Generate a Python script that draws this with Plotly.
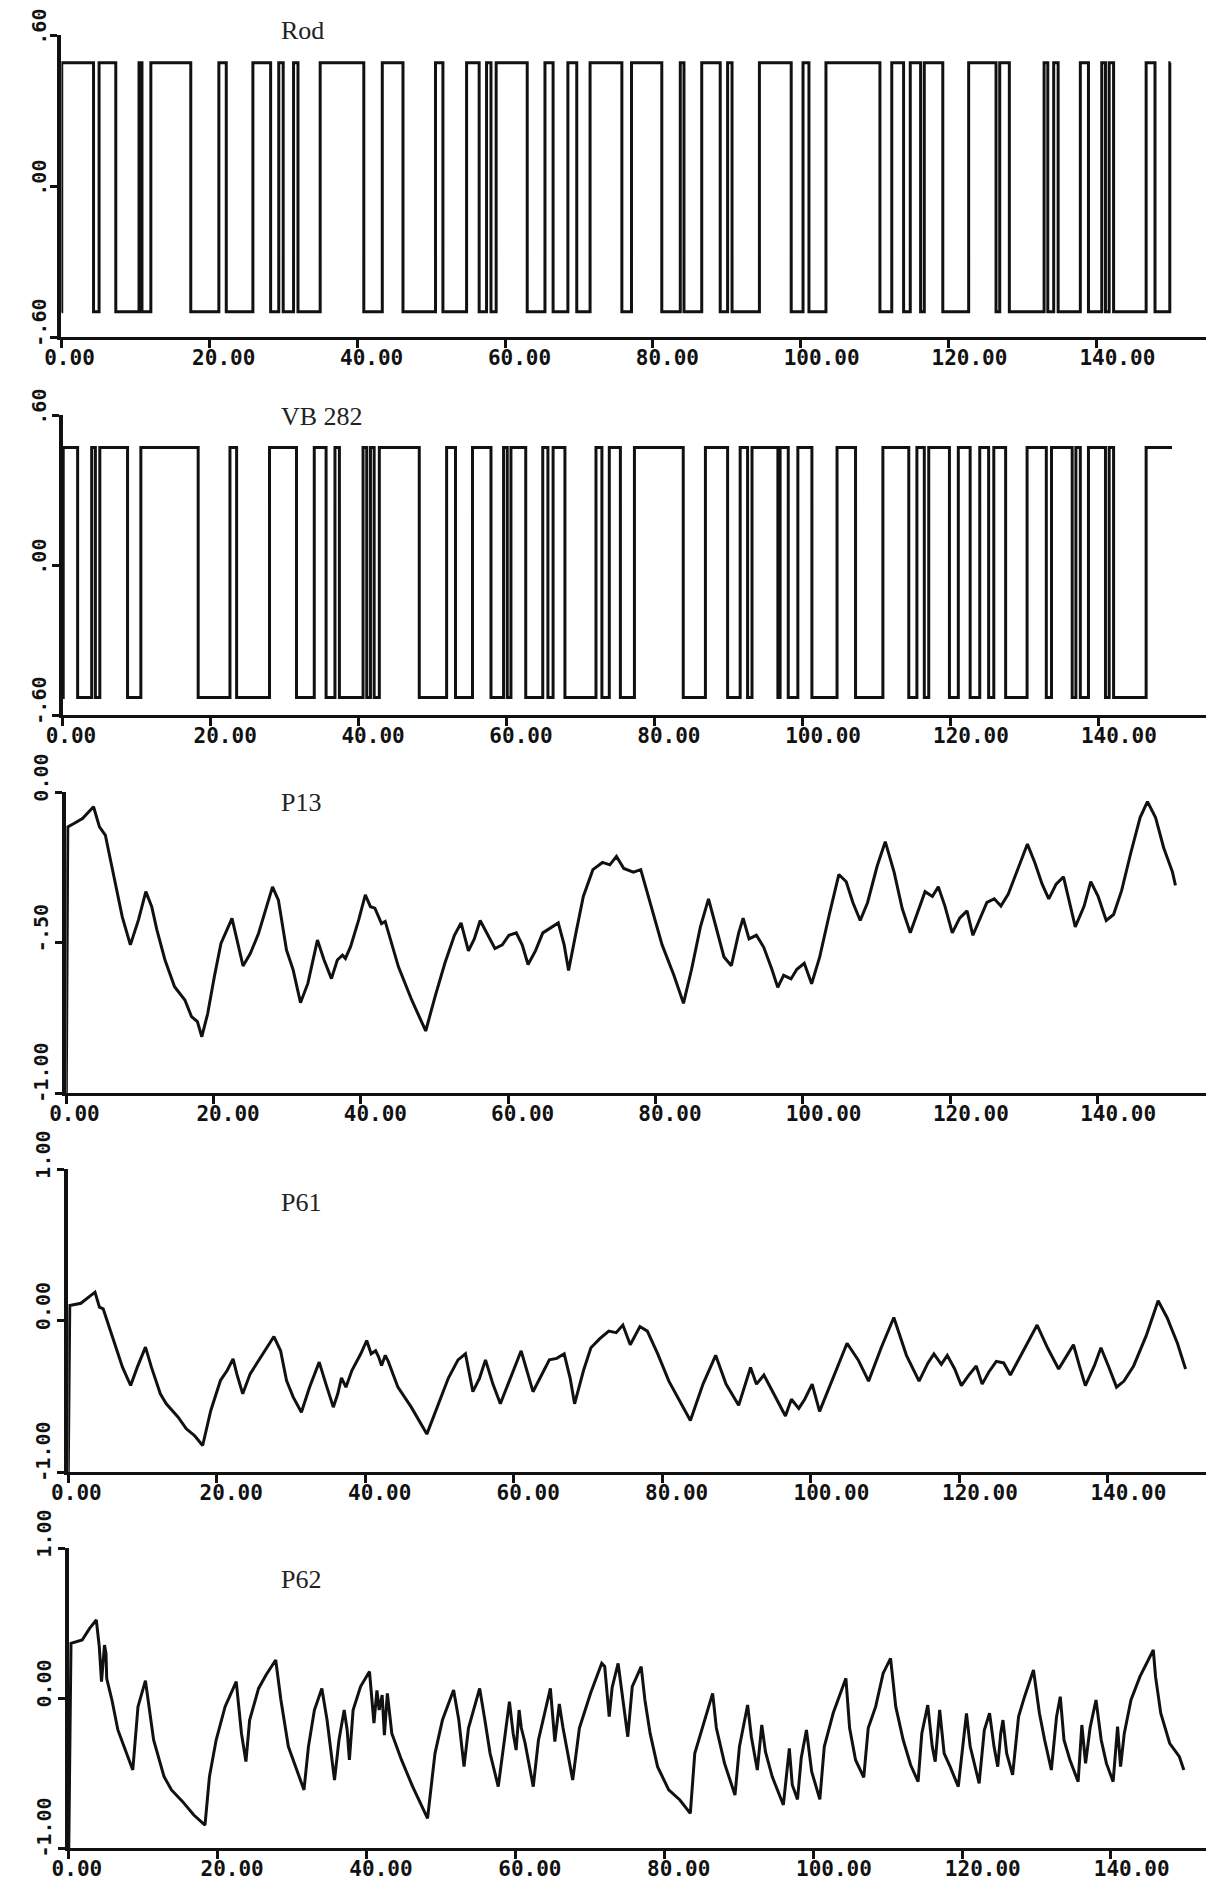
import plotly.graph_objects as go

W, H = 1208, 1899

# ---------------- data ----------------
x_tick_vals = [0, 20, 40, 60, 80, 100, 120, 140]
x_tick_text = ["0.00", "20.00", "40.00", "60.00", "80.00", "100.00", "120.00", "140.00"]

titles = ["Rod", "VB 282", "P13", "P61", "P62"]

# Rod square wave: switch times and state after switch (1 = high, 0 = low)
ROD_HIGH, ROD_LOW = 0.49, -0.50
rod_t = [0, 0.05, 4.35, 5.1, 7.36, 10.5, 10.9, 12.1, 17.5, 21.3, 22.3, 25.9, 28.3, 29.4, 30.0,
         31.4, 32.0, 35.0, 40.9, 43.4, 46.2, 50.6, 51.6, 54.8, 56.5, 57.5, 58.1, 58.8,
         63.0, 65.4, 66.5, 68.5, 69.7, 71.5, 75.8, 77.1, 81.2, 83.7, 84.2, 86.6, 89.1,
         90.1, 90.7, 94.4, 98.7, 100.3, 101.1, 103.4, 110.7, 112.3, 113.9, 114.8, 116.2,
         116.7, 119.2, 122.7, 126.4, 126.9, 128.2, 132.9, 133.4, 134.2, 134.8, 137.8,
         138.9, 140.7, 141.2, 141.7, 142.3, 146.7, 147.9, 149.9, 150.0]
rod_state = [0, 1, 0, 1, 0, 1, 0, 1, 0, 1, 0, 1, 0, 1, 0,
             1, 0, 1, 0, 1, 0, 1, 0, 1, 0, 1, 0, 1,
             0, 1, 0, 1, 0, 1, 0, 1, 0, 1, 0, 1, 0,
             1, 0, 1, 0, 1, 0, 1, 0, 1, 0, 1, 0,
             1, 0, 1, 0, 1, 0, 1, 0, 1, 0, 1,
             0, 1, 0, 1, 0, 1, 0, 1, 1]

# VB 282 square wave
VB_HIGH, VB_LOW = 0.47, -0.53
vb_t = [0, 0.05, 2.0, 3.9, 4.4, 5.0, 8.75, 10.55, 18.3, 22.6, 23.5, 27.95, 31.6, 34.0, 35.6,
        36.8, 37.4, 40.6, 41.1, 41.6, 42.1, 42.8, 48.2, 51.9, 53.1, 55.4, 57.9, 59.6,
        60.1, 60.6, 62.6, 64.9, 65.6, 66.3, 67.9, 72.1, 72.9, 73.9, 75.4, 77.3, 83.9,
        86.9, 89.9, 91.6, 92.6, 93.2, 96.7, 97.0, 98.1, 99.4, 101.3, 104.7, 107.2,
        110.9, 114.4, 115.5, 116.5, 117.1, 119.9, 121.1, 122.7, 124.0, 125.2, 125.9,
        127.5, 130.4, 133.0, 133.7, 136.5, 137.0, 137.6, 138.7, 141.0, 141.5, 142.1,
        146.5, 150.0]
vb_state = [0, 1, 0, 1, 0, 1, 0, 1, 0, 1, 0, 1, 0, 1, 0,
            1, 0, 1, 0, 1, 0, 1, 0, 1, 0, 1, 0, 1,
            0, 1, 0, 1, 0, 1, 0, 1, 0, 1, 0, 1, 0,
            1, 0, 1, 0, 1, 0, 1, 0, 1, 0, 1, 0,
            1, 0, 1, 0, 1, 0, 1, 0, 1, 0, 1,
            0, 1, 0, 1, 0, 1, 0, 1, 0, 1, 0,
            1, 1]

p13_t = [0, 0.2, 1.1, 2.2, 3.7, 4.5, 5.3, 6.5, 7.6, 8.7, 9.8, 10.8, 11.6, 12.3, 13.4, 14.7,
         16.1, 17.0, 17.8, 18.4, 19.2, 20.1, 21.0, 22.5, 23.2, 24.0, 25.0, 26.1, 28.0, 28.8,
         29.9, 30.8, 31.8, 32.8, 34.1, 35.0, 36.0, 36.8, 37.5, 37.9, 38.6, 39.7, 40.6, 41.3,
         41.9, 42.8, 43.3, 45.1, 46.9, 48.8, 50.1, 51.4, 52.7, 53.6, 54.6, 55.4, 56.2, 57.2,
         58.2, 59.2, 60.1, 61.1, 61.9, 62.7, 63.7, 64.7, 65.8, 66.8, 67.6, 68.2, 69.2, 70.2,
         71.5, 72.8, 73.8, 74.7, 75.7, 77.0, 78.0, 79.3, 80.9, 82.5, 83.8, 84.9, 86.1, 87.2,
         88.4, 89.3, 90.3, 91.3, 91.9, 92.7, 93.7, 94.7, 95.8, 96.6, 97.4, 98.4, 99.2, 100.2,
         101.2, 102.3, 103.6, 104.9, 105.9, 106.8, 107.8, 108.8, 110.1, 111.2, 112.4, 113.5,
         114.6, 115.8, 116.6, 117.6, 118.4, 119.3, 120.3, 121.3, 122.3, 123.1, 124.0, 125.0,
         126.0, 126.9, 127.9, 129.2, 130.5, 131.5, 132.5, 133.4, 134.4, 135.4, 136.2, 137.0,
         138.2, 139.1, 140.1, 141.2, 142.2, 143.3, 144.5, 145.8, 146.8, 147.9, 149.0, 150.2,
         150.6]
p13_v = [-1.0, -0.116, -0.104, -0.088, -0.049, -0.116, -0.143, -0.281, -0.415, -0.508, -0.425,
         -0.331, -0.381, -0.458, -0.558, -0.647, -0.691, -0.746, -0.763, -0.813, -0.736, -0.614,
         -0.503, -0.420, -0.492, -0.578, -0.536, -0.470, -0.315, -0.359, -0.525, -0.591, -0.700,
         -0.636, -0.492, -0.558, -0.620, -0.558, -0.542, -0.553, -0.514, -0.425, -0.342, -0.381,
         -0.386, -0.437, -0.430, -0.581, -0.691, -0.794, -0.677, -0.569, -0.476, -0.435, -0.528,
         -0.488, -0.427, -0.476, -0.520, -0.508, -0.476, -0.468, -0.508, -0.573, -0.528, -0.468,
         -0.452, -0.435, -0.508, -0.593, -0.468, -0.347, -0.258, -0.234, -0.242, -0.214, -0.254,
         -0.266, -0.258, -0.367, -0.508, -0.609, -0.702, -0.589, -0.448, -0.355, -0.468, -0.548,
         -0.577, -0.468, -0.419, -0.488, -0.476, -0.516, -0.589, -0.649, -0.609, -0.621, -0.589,
         -0.569, -0.637, -0.548, -0.407, -0.274, -0.298, -0.367, -0.427, -0.367, -0.246, -0.165,
         -0.266, -0.387, -0.468, -0.387, -0.331, -0.347, -0.315, -0.379, -0.468, -0.419, -0.395,
         -0.476, -0.427, -0.367, -0.355, -0.379, -0.339, -0.258, -0.173, -0.234, -0.306, -0.355,
         -0.306, -0.282, -0.367, -0.448, -0.379, -0.298, -0.347, -0.427, -0.407, -0.327, -0.206,
         -0.085, -0.032, -0.085, -0.185, -0.266, -0.310]

p61_t = [0, 0.2, 1.7, 2.6, 3.6, 4.2, 4.7, 5.0, 6.4, 7.3, 8.4, 9.3, 10.4, 11.2, 12.4, 13.2, 14.8,
         15.9, 17.0, 18.1, 19.2, 20.5, 21.4, 22.2, 22.7, 23.5, 24.5, 25.9, 26.7, 27.7, 28.6,
         29.4, 30.3, 31.4, 32.5, 33.8, 34.7, 35.7, 36.3, 36.8, 37.4, 38.2, 39.4, 40.2, 40.8,
         41.4, 41.8, 42.2, 42.7, 43.1, 44.4, 46.2, 48.3, 49.8, 51.2, 52.5, 53.5, 54.5, 55.4,
         56.2, 57.2, 58.2, 59.6, 61.0, 62.6, 63.8, 64.8, 65.8, 66.8, 67.6, 68.2, 69.4, 70.4,
         71.6, 72.8, 73.8, 74.7, 75.7, 77.0, 78.0, 79.4, 80.9, 82.5, 83.8, 85.5, 87.2, 88.6,
         90.3, 91.9, 92.7, 93.7, 95.0, 96.6, 97.4, 98.4, 99.2, 100.2, 101.2, 103.0, 104.9,
         106.4, 107.8, 109.5, 111.2, 112.9, 114.6, 115.8, 116.6, 117.6, 118.4, 119.4, 120.3,
         121.3, 122.3, 123.1, 124.0, 125.0, 126.0, 126.9, 127.9, 129.2, 130.5, 131.9, 133.4,
         134.4, 135.4, 136.2, 137.0, 138.2, 139.1, 140.1, 141.2, 142.2, 143.5, 145.2, 146.8,
         148.0, 149.4, 150.5]
p61_v = [-1.0, 0.099, 0.114, 0.150, 0.187, 0.088, 0.077, 0.033, -0.176, -0.308, -0.429, -0.308,
         -0.176, -0.308, -0.484, -0.550, -0.638, -0.715, -0.759, -0.825, -0.594, -0.396, -0.330,
         -0.253, -0.352, -0.484, -0.352, -0.242, -0.176, -0.106, -0.200, -0.396, -0.506, -0.605,
         -0.440, -0.275, -0.418, -0.572, -0.484, -0.378, -0.440, -0.330, -0.220, -0.132, -0.220,
         -0.200, -0.240, -0.297, -0.230, -0.270, -0.440, -0.572, -0.750, -0.560, -0.380, -0.260,
         -0.220, -0.470, -0.380, -0.260, -0.420, -0.550, -0.380, -0.200, -0.470, -0.350, -0.260,
         -0.250, -0.220, -0.380, -0.550, -0.330, -0.180, -0.120, -0.070, -0.080, -0.030, -0.160,
         -0.040, -0.070, -0.220, -0.400, -0.540, -0.660, -0.420, -0.230, -0.420, -0.560, -0.310,
         -0.420, -0.360, -0.480, -0.630, -0.520, -0.580, -0.520, -0.420, -0.600, -0.380, -0.150,
         -0.260, -0.400, -0.180, 0.020, -0.230, -0.400, -0.280, -0.220, -0.290, -0.230, -0.320,
         -0.430, -0.360, -0.300, -0.420, -0.340, -0.270, -0.280, -0.360, -0.270, -0.150, -0.030,
         -0.180, -0.320, -0.240, -0.160, -0.300, -0.430, -0.300, -0.180, -0.300, -0.440, -0.400,
         -0.300, -0.100, 0.130, 0.020, -0.150, -0.320]

p62_t = [0, 0.3, 1.8, 2.8, 3.7, 4.1, 4.4, 4.8, 5.0, 5.1, 5.8, 6.6, 7.6, 8.6, 9.3, 10.3, 11.4,
         12.8, 13.8, 15.3, 16.8, 18.3, 18.9, 19.8, 21.0, 22.5, 23.2, 23.8, 24.3, 25.5, 26.5,
         27.8, 28.5, 29.5, 31.6, 32.2, 33.0, 34.0, 34.7, 35.7, 36.3, 37.0, 37.4, 37.7, 38.2,
         39.2, 40.4, 41.0, 41.4, 41.7, 42.1, 42.4, 42.8, 43.4, 44.7, 46.2, 48.2, 49.2, 50.2,
         51.7, 52.4, 53.1, 53.7, 55.2, 55.9, 56.6, 57.7, 58.4, 59.2, 59.7, 60.1, 60.5, 60.8,
         61.3, 62.4, 63.1, 63.9, 64.7, 65.3, 65.9, 66.4, 67.7, 68.6, 70.1, 71.6, 72.0, 72.6,
         73.0, 73.8, 74.3, 75.1, 75.7, 76.9, 77.4, 78.1, 79.1, 80.6, 82.1, 83.5, 84.1, 85.1,
         86.5, 87.0, 88.1, 89.5, 90.1, 91.2, 91.7, 92.5, 93.1, 93.6, 94.5, 96.0, 96.8, 97.2,
         97.9, 98.4, 99.1, 99.8, 100.9, 101.5, 102.7, 104.4, 104.9, 105.7, 106.8, 107.4, 108.4,
         109.4, 110.4, 111.1, 112.1, 113.1, 114.1, 114.6, 115.4, 116.0, 116.4, 117.0, 117.6,
         118.4, 119.5, 120.1, 120.6, 121.1, 122.3, 123.0, 123.7, 124.3, 124.8, 125.2, 125.5,
         126.0, 126.8, 127.6, 128.4, 129.6, 130.4, 131.1, 132.0, 132.7, 133.2, 133.7, 134.5,
         135.6, 136.1, 136.6, 137.2, 138.0, 138.7, 139.4, 140.3, 140.9, 141.3, 141.8, 142.7,
         143.9, 145.7, 146.0, 146.7, 147.9, 149.2, 149.8]
p62_v = [-1.0, 0.364, 0.387, 0.464, 0.520, 0.342, 0.109, 0.353, 0.298, 0.130, -0.013, -0.213,
         -0.347, -0.480, -0.058, 0.116, -0.280, -0.524, -0.613, -0.691, -0.780, -0.847, -0.524,
         -0.280, -0.058, 0.109, -0.236, -0.424, -0.147, 0.064, 0.153, 0.253, -0.013, -0.324,
         -0.613, -0.324, -0.080, 0.064, -0.147, -0.547, -0.280, -0.080, -0.213, -0.413, -0.080,
         0.076, 0.176, -0.167, 0.050, -0.080, 0.020, -0.247, 0.031, -0.236, -0.413, -0.591,
         -0.802, -0.369, -0.147, 0.053, -0.147, -0.458, -0.200, 0.064, -0.147, -0.369, -0.591,
         -0.324, -0.024, -0.236, -0.347, -0.080, -0.200, -0.300, -0.591, -0.280, -0.100, 0.064,
         -0.290, -0.040, -0.200, -0.547, -0.200, 0.031, 0.231, 0.210, -0.124, 0.070, 0.231,
         0.030, -0.258, 0.076, 0.209, -0.013, -0.236, -0.458, -0.613, -0.680, -0.769, -0.369,
         -0.200, 0.031, -0.200, -0.436, -0.647, -0.324, -0.047, -0.258, -0.480, -0.180, -0.360,
         -0.524, -0.713, -0.336, -0.580, -0.676, -0.400, -0.213, -0.490, -0.676, -0.324, -0.100,
         0.131, -0.200, -0.413, -0.529, -0.200, -0.058, 0.164, 0.264, -0.058, -0.280, -0.447,
         -0.558, -0.236, -0.047, -0.324, -0.424, -0.080, -0.369, -0.458, -0.591, -0.324, -0.102,
         -0.324, -0.569, -0.213, -0.102, -0.324, -0.458, -0.236, -0.147, -0.369, -0.513, -0.124,
         0.009, 0.187, -0.102, -0.280, -0.480, -0.124, 0.009, -0.280, -0.413, -0.558, -0.180,
         -0.436, -0.200, -0.013, -0.280, -0.436, -0.558, -0.191, -0.458, -0.236, -0.013, 0.142,
         0.320, 0.142, -0.102, -0.302, -0.391, -0.480]

y_ranges = [(-0.6, 0.6), (-0.6, 0.6), (-1.0, 0.0), (-1.0, 1.0), (-1.0, 1.0)]
y_tick_vals = [[-0.6, 0.0, 0.6], [-0.6, 0.0, 0.6], [-1.0, -0.5, 0.0], [-1.0, 0.0, 1.0], [-1.0, 0.0, 1.0]]
y_tick_text = [["-.60", ".00", ".60"], ["-.60", ".00", ".60"], ["-1.00", "-.50", "0.00"],
               ["-1.00", "0.00", "1.00"], ["-1.00", "0.00", "1.00"]]

# ---------------- layout geometry (pixels) ----------------
# x origin pixel, pixels per unit, y top pixel, y bottom pixel, label centre x
geom = [
    (45.0, 7.50, 35, 337, 22),
    (46.5, 7.50, 415, 715, 22),
    (50.0, 7.47, 792, 1093, 24),
    (52.0, 7.53, 1169, 1472, 26),
    (52.5, 7.55, 1548, 1848, 27),
]
X_RIGHT = 1206
INK = "#111111"

rod_y = [ROD_HIGH if s else ROD_LOW for s in rod_state]
vb_y = [VB_HIGH if s else VB_LOW for s in vb_state]

series = [
    (rod_t, rod_y, "hv"),
    (vb_t, vb_y, "hv"),
    (p13_t, p13_v, "linear"),
    (p61_t, p61_v, "linear"),
    (p62_t, p62_v, "linear"),
]

fig = go.Figure()
annotations = []
layout = dict(
    width=W, height=H, margin=dict(l=0, r=0, t=0, b=0, pad=0),
    paper_bgcolor="white", plot_bgcolor="white", showlegend=False,
)

tick_font = dict(family="DejaVu Sans Mono", size=21, color=INK, weight="bold")

for i, ((xs, ys, shape), (x0, ppu, ytop, ybot, lblx)) in enumerate(zip(series, geom)):
    n = i + 1
    xa = "x" if n == 1 else f"x{n}"
    ya = "y" if n == 1 else f"y{n}"
    fig.add_trace(go.Scatter(
        x=xs, y=ys, mode="lines", xaxis=xa, yaxis=ya,
        line=dict(color=INK, width=3.0, shape=shape),
        hoverinfo="skip",
    ))
    layout[f"xaxis{'' if n == 1 else n}"] = dict(
        domain=[x0 / W, X_RIGHT / W],
        range=[0, (X_RIGHT - x0) / ppu],
        anchor=ya, showline=True, linewidth=3.2, linecolor=INK,
        showgrid=False, zeroline=False,
        ticks="outside", ticklen=8, tickwidth=2.5, tickcolor=INK,
        tickvals=x_tick_vals, ticktext=x_tick_text, tickfont=tick_font,
        ticklabelposition="outside right", ticklabelshift=-20,
    )
    yr = y_ranges[i]
    layout[f"yaxis{'' if n == 1 else n}"] = dict(
        domain=[1 - ybot / H, 1 - ytop / H],
        range=list(yr),
        anchor=xa, showline=True, linewidth=3.8, linecolor=INK,
        showgrid=False, zeroline=False,
        ticks="outside", ticklen=7, tickwidth=2.5, tickcolor=INK,
        tickvals=y_tick_vals[i], showticklabels=False,
    )
    for v, txt in zip(y_tick_vals[i], y_tick_text[i]):
        annotations.append(dict(
            x=lblx / W, xref="paper", y=v, yref=ya,
            text=txt, textangle=-90, showarrow=False,
            xanchor="center", yanchor="bottom", yshift=-12,
            font=dict(family="DejaVu Sans Mono", size=20, color=INK, weight="bold"),
        ))

title_y = [31, 416, 802, 1202, 1579]
for t, yp in zip(titles, title_y):
    annotations.append(dict(
        x=266 / W, xref="paper", y=1 - yp / H, yref="paper",
        text=t, showarrow=False, xanchor="left", yanchor="middle",
        font=dict(family="Liberation Serif", size=26, color="#222222"),
    ))

layout["annotations"] = annotations
fig.update_layout(**layout)
fig.write_html("out.html")
